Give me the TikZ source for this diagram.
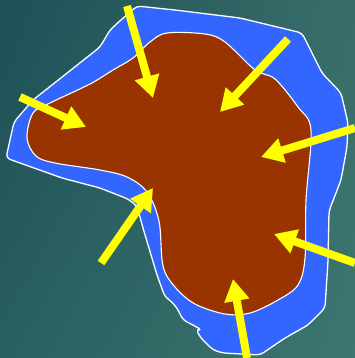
\documentclass[tikz,border=0pt]{standalone}
\usetikzlibrary{arrows.meta,shadings}
\definecolor{bgUL}{RGB}{30,80,86}
\definecolor{bgUR}{RGB}{56,110,106}
\definecolor{bgLL}{RGB}{40,95,96}
\definecolor{bgLR}{RGB}{60,118,112}
\definecolor{outerblue}{RGB}{51,102,255}
\definecolor{innerbrown}{RGB}{153,51,0}
\definecolor{arrowyellow}{RGB}{255,255,0}
\tikzset{
  outerregion/.style={fill=outerblue, draw=white, line width=1.3pt, line join=round},
  innerregion/.style={fill=innerbrown, draw=white, line width=1.1pt},
  pusharrow/.style={draw=arrowyellow, line width=8pt, -{Triangle[width=24pt,length=22pt]}, arrowyellow}
}
\begin{document}
\begin{tikzpicture}[x=1pt,y=-1pt]
\shade[upper left=bgUL, upper right=bgUR, lower left=bgLL, lower right=bgLR] (0,0) rectangle (355,358);
\useasboundingbox (0,0) rectangle (355,358);
% outer blue zone
\draw[outerregion, rounded corners=4pt]
  (6,158) -- (14,122) -- (33,100) -- (100,47) -- (110,30) -- (122,19) -- (137,6)
  -- (175,10) -- (240,18) -- (302,33) -- (322,73) -- (341,93) -- (348,123)
  -- (347,147) -- (341,180) -- (329,211) -- (328,261) -- (325,308) -- (308,325)
  -- (285,338) -- (260,355) -- (223,353) -- (213,350) -- (200,337) -- (196,329)
  -- (202,330) -- (193,325) -- (183,320) -- (177,308) -- (171,301) -- (165,297)
  -- (157,275) -- (143,228) -- (137,206) -- (128,199) -- (100,188) -- (62,178) -- cycle;
% inner brown zone
\draw[innerregion] plot[smooth cycle, tension=0.55] coordinates {
  (167,33) (150,42) (133,58) (113,70) (90,84) (50,103) (33,113) (27,138)
  (36,156) (55,163) (100,170) (127,177) (147,192) (159,221) (163,266)
  (175,287) (195,304) (225,314) (250,313) (278,300) (298,285) (305,258)
  (306,200) (311,130) (298,107) (275,79) (255,70) (225,42) (205,34)};
% arrow end points
\coordinate (a1s) at (127,6);   \coordinate (a1e) at (153,98);
\coordinate (a2s) at (20,97);   \coordinate (a2e) at (86,127);
\coordinate (a3s) at (288,39);  \coordinate (a3e) at (220,112);
\coordinate (a4s) at (355,128); \coordinate (a4e) at (261,157);
\coordinate (a5s) at (101,263); \coordinate (a5e) at (153,188);
\coordinate (a6s) at (355,263); \coordinate (a6e) at (274,234);
\coordinate (a7s) at (247,358); \coordinate (a7e) at (233,279);
\draw[pusharrow] (a1s) -- (a1e);
\draw[pusharrow] (a2s) -- (a2e);
\draw[pusharrow] (a3s) -- (a3e);
\draw[pusharrow] (a4s) -- (a4e);
\draw[pusharrow] (a5s) -- (a5e);
\draw[pusharrow] (a6s) -- (a6e);
\draw[pusharrow] (a7s) -- (a7e);
\end{tikzpicture}
\end{document}
